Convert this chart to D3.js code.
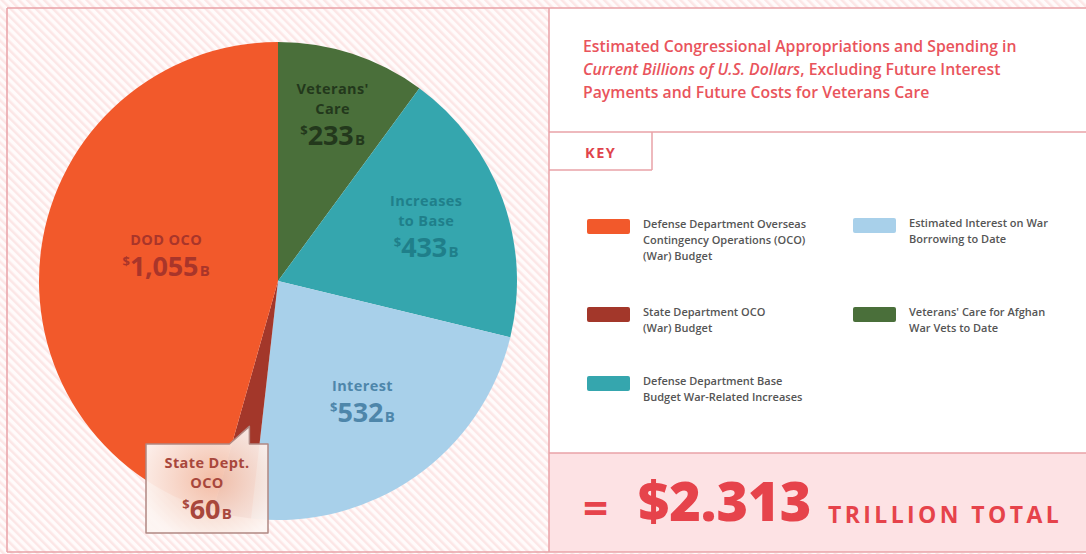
<!DOCTYPE html>
<html>
<head>
<meta charset="utf-8">
<script src="https://cdn.jsdelivr.net/npm/d3@7"></script>
<style>
  html, body { margin: 0; padding: 0; background: #fff; }
  svg { display: block; }
  text { font-family: "Open Sans", "Lato", sans-serif; }
</style>
</head>
<body>
<svg id="chart" width="1086" height="554"></svg>
<script>
// ---------- DATA ----------
const categories = ["Veterans' Care", "Increases to Base", "Interest", "State Dept. OCO", "DOD OCO"];
const values = [233, 433, 532, 60, 1055];
const sliceLabelLines = [["Veterans'", "Care"], ["Increases", "to Base"], ["Interest"], ["State Dept.", "OCO"], ["DOD OCO"]];
const valueLabels = ["233", "433", "532", "60", "1,055"];
const legendLabels = [
  ["Defense Department Overseas", "Contingency Operations (OCO)", "(War) Budget"],
  ["State Department OCO", "(War) Budget"],
  ["Defense Department Base", "Budget War-Related Increases"],
  ["Estimated Interest on War", "Borrowing to Date"],
  ["Veterans' Care for Afghan", "War Vets to Date"]
];
const legendCategories = ["DOD OCO", "State Dept. OCO", "Increases to Base", "Interest", "Veterans' Care"];
const titleLines = [
  [{t: "Estimated Congressional Appropriations and Spending in", i: false}],
  [{t: "Current Billions of U.S. Dollars", i: true}, {t: ", Excluding Future Interest", i: false}],
  [{t: "Payments and Future Costs for Veterans Care", i: false}]
];
const totalValue = "$2.313";
const totalUnit = "TRILLION TOTAL";

// ---------- STYLES ----------
const sliceColors = ["#4a6f3a", "#35a6ae", "#a8d0ea", "#a3372a", "#f2592b"];
const labelColors = ["#23381c", "#1f7f8a", "#4e86aa", "#a8473c", "#a9352a"];
const color = d3.scaleOrdinal().domain(categories).range(sliceColors);
const labelColor = d3.scaleOrdinal().domain(categories).range(labelColors);
const labelRadiusFrac = d3.scaleOrdinal().domain(categories).range([0.735, 0.66, 0.617, 0.5, 0.48]);
const labelAngleShift = d3.scaleOrdinal().domain(categories).range([0, 0, 0, 0, 5]); // degrees
const pink = "#e9a2a7";
const red = "#e9545c";
const labelFont = "Lato, 'Open Sans', sans-serif";

const svg = d3.select("#chart");
const defs = svg.append("defs");
const pat = defs.append("pattern").attr("id", "hatch").attr("patternUnits", "userSpaceOnUse")
  .attr("width", 6).attr("height", 6).attr("patternTransform", "rotate(-45)");
pat.append("rect").attr("width", 6).attr("height", 6).attr("fill", "#fffbfb");
pat.append("rect").attr("width", 2.5).attr("height", 6).attr("fill", "#fce6e6");

const grad = defs.append("radialGradient").attr("id", "glow").attr("cx", "55%").attr("cy", "50%").attr("r", "60%");
grad.append("stop").attr("offset", "0%").attr("stop-color", "#f3c2ac");
grad.append("stop").attr("offset", "55%").attr("stop-color", "#f8dfd4");
grad.append("stop").attr("offset", "100%").attr("stop-color", "#fdf5f2");

// background
svg.append("rect").attr("width", 1086).attr("height", 554).attr("fill", "url(#hatch)");
// right panel
svg.append("rect").attr("x", 549).attr("y", 8).attr("width", 537).attr("height", 545).attr("fill", "#fff");
svg.append("rect").attr("x", 549).attr("y", 453).attr("width", 537).attr("height", 99).attr("fill", "#fde2e4");

// borders
const lines = [
  [7, 8, 1086, 8], [7, 8, 7, 552], [7, 552, 1086, 552], [549, 8, 549, 552],
  [549, 132, 1086, 132], [549, 170, 652, 170], [652, 132, 652, 170], [549, 453, 1086, 453]
];
svg.append("g").selectAll("line").data(lines).join("line")
  .attr("x1", d => d[0]).attr("y1", d => d[1]).attr("x2", d => d[2]).attr("y2", d => d[3])
  .attr("stroke", pink).attr("stroke-width", 1.5);

// ---------- PIE ----------
const cx = 278, cy = 281, R = 239;
const pie = d3.pie().sort(null).value(d => d.v);
const arcs = pie(categories.map((c, i) => ({c, v: values[i], lines: sliceLabelLines[i], val: valueLabels[i]})));
const arc = d3.arc().innerRadius(0).outerRadius(R);
const g = svg.append("g").attr("transform", `translate(${cx},${cy})`);
g.selectAll("path").data(arcs).join("path").attr("d", arc).attr("fill", d => color(d.data.c));

// label block centred on (x, y)
function drawLabel(sel, d, x, y, col) {
  const t = sel.append("g").attr("transform", `translate(${x},${y})`).attr("fill", col)
    .attr("text-anchor", "middle").attr("font-family", labelFont);
  const n = d.data.lines.length;
  const step = 20, gap = 31;
  const b0 = -((n - 1) * step + gap - 10) / 2;
  d.data.lines.forEach((ln, i) => {
    t.append("text").attr("y", b0 + i * step).attr("font-size", 14.5).attr("font-weight", 700)
      .attr("letter-spacing", 0.4).text(ln);
  });
  const v = t.append("text").attr("y", b0 + (n - 1) * step + gap).attr("font-weight", 700);
  v.append("tspan").attr("font-size", 13).attr("dy", -10).text("$");
  v.append("tspan").attr("font-size", 27).attr("dy", 10).attr("letter-spacing", -0.2).text(d.data.val);
  v.append("tspan").attr("font-size", 15).attr("dx", 1.5).text("B");
}

arcs.forEach(d => {
  if (d.data.c === "State Dept. OCO") return;
  const r = R * labelRadiusFrac(d.data.c);
  const a = (d.startAngle + d.endAngle) / 2 + labelAngleShift(d.data.c) * Math.PI / 180;
  drawLabel(g, d, r * Math.sin(a), -r * Math.cos(a), labelColor(d.data.c));
});

// State Dept callout
const st = arcs.find(d => d.data.c === "State Dept. OCO");
const stA = (st.startAngle + st.endAngle) / 2;
const tipR = R * 0.62;
const tip = [cx + tipR * Math.sin(stA), cy - tipR * Math.cos(stA)];
const bx0 = 146, by0 = 444, bx1 = 268, by1 = 533;
const calloutPath = `M${bx0},${by0} L${tip[0] - 20},${by0} L${tip[0]},${tip[1]} L${tip[0]},${by0} L${bx1},${by0} L${bx1},${by1} L${bx0},${by1} Z`;
svg.append("path").attr("d", calloutPath).attr("fill", "url(#glow)").attr("fill-opacity", 0.95)
  .attr("stroke", "#b08883").attr("stroke-width", 1.5).attr("stroke-linejoin", "round");
drawLabel(svg, st, (bx0 + bx1) / 2, 488, labelColor(st.data.c));

// ---------- TITLE ----------
const tg = svg.append("g").attr("fill", red);
titleLines.forEach((ln, i) => {
  const t = tg.append("text").attr("x", 583).attr("y", 52 + i * 23).attr("font-size", 15.8).attr("font-weight", 600);
  ln.forEach(p => t.append("tspan").attr("font-style", p.i ? "italic" : "normal").text(p.t));
});
svg.append("text").attr("x", 585).attr("y", 158).attr("font-size", 14.5).attr("font-weight", 700)
  .attr("letter-spacing", 1.5).attr("fill", "#e0444c").text("KEY");

// ---------- LEGEND ----------
const legendPos = [[587, 226], [587, 314], [587, 383], [853, 225], [853, 314]];
const lg = svg.append("g");
legendCategories.forEach((c, i) => {
  const [x, y] = legendPos[i];
  lg.append("rect").attr("x", x).attr("y", y - 7).attr("width", 43).attr("height", 15).attr("rx", 2)
    .attr("fill", color(c));
  legendLabels[i].forEach((ln, j) => {
    lg.append("text").attr("x", x + 56).attr("y", y + 2 + j * 16).attr("font-size", 11).attr("font-weight", 600)
      .attr("fill", "#555").text(ln);
  });
});

// ---------- TOTAL ----------
const tot = svg.append("g").attr("fill", "#e6434b").attr("font-family", "Roboto, 'Open Sans', sans-serif");
tot.append("text").attr("x", 583).attr("y", 524).attr("font-size", 44).attr("font-weight", 700).text("=");
tot.append("text").attr("x", 638).attr("y", 521).attr("font-size", 54).attr("font-weight", 900).text(totalValue);
tot.append("text").attr("x", 828).attr("y", 523).attr("font-size", 23).attr("font-weight", 700)
  .attr("letter-spacing", 3.4).text(totalUnit);
</script>
</body>
</html>
